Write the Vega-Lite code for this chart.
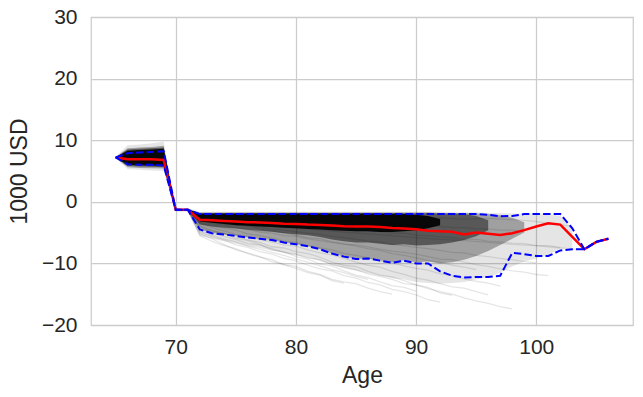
{
  "$schema": "https://vega.github.io/schema/vega-lite/v6.json",
  "width": 542,
  "height": 308,
  "autosize": {"type": "none"},
  "padding": {"left": 91, "top": 17, "right": 10, "bottom": 72},
  "background": "white",
  "config": {
    "view": {"stroke": "#cccccc", "strokeWidth": 1.25},
    "axis": {"grid": true, "gridColor": "#cccccc", "gridWidth": 1.25, "domain": false, "ticks": false,
      "labelFont": "Liberation Sans", "labelFontSize": 21, "labelColor": "#262626",
      "titleFont": "Liberation Sans", "titleFontSize": 23, "titleFontWeight": "normal", "titleColor": "#262626"}
  },
  "datasets": {
    "b1": [
      {"age":65,"v":7.3,"lo":7.1},{"age":66,"v":9.2,"lo":5.3},{"age":67,"v":9.3,"lo":5.2},{"age":68,"v":9.5,"lo":5.1},{"age":69,"v":9.8,"lo":5.0},
      {"age":70,"v":-1.0,"lo":-1.6},{"age":71,"v":-1.0,"lo":-1.6},{"age":72,"v":-1.6,"lo":-5.5},{"age":73,"v":-1.6,"lo":-6.0},{"age":74,"v":-1.6,"lo":-6.4},
      {"age":75,"v":-1.6,"lo":-6.8},{"age":76,"v":-1.6,"lo":-7.2},{"age":77,"v":-1.6,"lo":-7.5},{"age":78,"v":-1.6,"lo":-7.9},{"age":79,"v":-1.6,"lo":-8.3},
      {"age":80,"v":-1.6,"lo":-8.7},{"age":81,"v":-1.6,"lo":-9.1},{"age":82,"v":-1.6,"lo":-9.6},{"age":83,"v":-1.6,"lo":-10.2},{"age":84,"v":-1.6,"lo":-10.8},
      {"age":85,"v":-1.6,"lo":-11.2},{"age":86,"v":-1.6,"lo":-11.6},{"age":87,"v":-1.6,"lo":-12.0},{"age":88,"v":-1.6,"lo":-12.4},{"age":89,"v":-1.6,"lo":-12.6},
      {"age":90,"v":-1.6,"lo":-13.0},{"age":91,"v":-1.6,"lo":-13.2},{"age":92,"v":-1.6,"lo":-13.3},{"age":93,"v":-1.7,"lo":-13.2},{"age":94,"v":-1.7,"lo":-13.0},
      {"age":95,"v":-1.7,"lo":-12.6},{"age":96,"v":-1.8,"lo":-12.2},{"age":97,"v":-1.8,"lo":-11.5},{"age":98,"v":-1.9,"lo":-10.5},{"age":99,"v":-1.9,"lo":-9.7},
      {"age":100,"v":-1.9,"lo":-9.2},{"age":101,"v":-2.0,"lo":-8.6},{"age":102,"v":-2.3,"lo":-7.6},{"age":103,"v":-4.3,"lo":-7.6}
    ],
    "b2": [
      {"age":65,"v":7.25,"lo":7.15},{"age":66,"v":8.7,"lo":5.6},{"age":67,"v":8.8,"lo":5.5},{"age":68,"v":8.9,"lo":5.45},{"age":69,"v":9.1,"lo":5.4},
      {"age":70,"v":-1.15,"lo":-1.45},{"age":71,"v":-1.15,"lo":-1.45},{"age":72,"v":-1.75,"lo":-4.5},{"age":73,"v":-1.75,"lo":-5.0},{"age":74,"v":-1.75,"lo":-5.3},
      {"age":75,"v":-1.75,"lo":-5.5},{"age":76,"v":-1.75,"lo":-5.8},{"age":77,"v":-1.75,"lo":-6.0},{"age":78,"v":-1.75,"lo":-6.2},{"age":79,"v":-1.75,"lo":-6.6},
      {"age":80,"v":-1.75,"lo":-6.9},{"age":81,"v":-1.75,"lo":-7.2},{"age":82,"v":-1.75,"lo":-7.7},{"age":83,"v":-1.75,"lo":-8.4},{"age":84,"v":-1.75,"lo":-8.9},
      {"age":85,"v":-1.75,"lo":-9.3},{"age":86,"v":-1.75,"lo":-9.2},{"age":87,"v":-1.75,"lo":-9.5},{"age":88,"v":-1.75,"lo":-9.8},{"age":89,"v":-1.75,"lo":-9.5},
      {"age":90,"v":-1.75,"lo":-9.8},{"age":91,"v":-1.75,"lo":-9.7},{"age":92,"v":-1.8,"lo":-10.0},{"age":93,"v":-1.8,"lo":-9.8},{"age":94,"v":-1.8,"lo":-9.4},
      {"age":95,"v":-1.9,"lo":-8.8},{"age":96,"v":-2.0,"lo":-8.0},{"age":97,"v":-2.2,"lo":-7.0},{"age":98,"v":-2.6,"lo":-6.0},{"age":99,"v":-3.3,"lo":-5.0}
    ],
    "b3": [
      {"age":65,"v":7.25,"lo":7.15},{"age":66,"v":8.5,"lo":5.8},{"age":67,"v":8.6,"lo":5.75},{"age":68,"v":8.7,"lo":5.7},{"age":69,"v":8.8,"lo":5.6},
      {"age":70,"v":-1.2,"lo":-1.4},{"age":71,"v":-1.2,"lo":-1.4},{"age":72,"v":-1.85,"lo":-3.7},{"age":73,"v":-1.85,"lo":-4.0},{"age":74,"v":-1.85,"lo":-4.2},
      {"age":75,"v":-1.85,"lo":-4.35},{"age":76,"v":-1.85,"lo":-4.55},{"age":77,"v":-1.85,"lo":-4.7},{"age":78,"v":-1.85,"lo":-4.85},{"age":79,"v":-1.85,"lo":-5.1},
      {"age":80,"v":-1.85,"lo":-5.25},{"age":81,"v":-1.85,"lo":-5.45},{"age":82,"v":-1.85,"lo":-5.7},{"age":83,"v":-1.85,"lo":-6.1},{"age":84,"v":-1.85,"lo":-6.4},
      {"age":85,"v":-1.85,"lo":-6.6},{"age":86,"v":-1.85,"lo":-6.6},{"age":87,"v":-1.85,"lo":-6.8},{"age":88,"v":-1.85,"lo":-7.0},{"age":89,"v":-1.85,"lo":-6.9},
      {"age":90,"v":-1.85,"lo":-7.1},{"age":91,"v":-1.85,"lo":-7.0},{"age":92,"v":-1.9,"lo":-6.9},{"age":93,"v":-1.9,"lo":-6.6},{"age":94,"v":-2.0,"lo":-6.2},
      {"age":95,"v":-2.3,"lo":-5.6},{"age":96,"v":-3.0,"lo":-4.6}
    ],
    "b4": [
      {"age":65,"v":7.25,"lo":7.15},{"age":66,"v":8.3,"lo":6.0},{"age":67,"v":8.4,"lo":5.95},{"age":68,"v":8.5,"lo":5.9},{"age":69,"v":8.6,"lo":5.8},
      {"age":70,"v":-1.2,"lo":-1.4},{"age":71,"v":-1.2,"lo":-1.4},{"age":72,"v":-1.9,"lo":-3.2},{"age":73,"v":-1.9,"lo":-3.4},{"age":74,"v":-1.9,"lo":-3.6},
      {"age":75,"v":-1.9,"lo":-3.8},{"age":76,"v":-1.9,"lo":-3.9},{"age":77,"v":-1.9,"lo":-4.0},{"age":78,"v":-1.9,"lo":-4.1},{"age":79,"v":-1.9,"lo":-4.2},
      {"age":80,"v":-1.9,"lo":-4.3},{"age":81,"v":-1.9,"lo":-4.4},{"age":82,"v":-1.9,"lo":-4.5},{"age":83,"v":-1.9,"lo":-4.6},{"age":84,"v":-1.9,"lo":-4.7},
      {"age":85,"v":-1.9,"lo":-4.8},{"age":86,"v":-1.9,"lo":-4.8},{"age":87,"v":-1.9,"lo":-4.9},{"age":88,"v":-1.95,"lo":-4.9},{"age":89,"v":-2.0,"lo":-4.8},
      {"age":90,"v":-2.1,"lo":-4.6},{"age":91,"v":-2.3,"lo":-4.3},{"age":92,"v":-2.8,"lo":-3.8}
    ],
    "sims": [
      {"id":1,"age":71,"v":-1.3},{"id":1,"age":72,"v":-4.9},{"id":1,"age":73,"v":-5.7},{"id":1,"age":74,"v":-6.2},{"id":1,"age":75,"v":-7.0},{"id":1,"age":76,"v":-7.4},{"id":1,"age":77,"v":-8.1},{"id":1,"age":78,"v":-8.5},{"id":1,"age":79,"v":-9.2},{"id":1,"age":80,"v":-9.6},{"id":1,"age":81,"v":-10.3},{"id":1,"age":82,"v":-10.9},{"id":1,"age":83,"v":-11.2},{"id":1,"age":84,"v":-12.0},{"id":1,"age":85,"v":-12.4},{"id":1,"age":86,"v":-13.1},{"id":1,"age":87,"v":-13.5},{"id":1,"age":88,"v":-14.2},{"id":1,"age":89,"v":-14.6},{"id":1,"age":90,"v":-15.1},{"id":1,"age":91,"v":-15.9},{"id":1,"age":92,"v":-16.3},
      {"id":2,"age":71,"v":-1.3},{"id":2,"age":72,"v":-4.4},{"id":2,"age":73,"v":-5.0},{"id":2,"age":74,"v":-5.6},{"id":2,"age":75,"v":-6.1},{"id":2,"age":76,"v":-6.8},{"id":2,"age":77,"v":-7.0},{"id":2,"age":78,"v":-7.6},{"id":2,"age":79,"v":-8.2},{"id":2,"age":80,"v":-8.5},{"id":2,"age":81,"v":-9.1},{"id":2,"age":82,"v":-9.4},{"id":2,"age":83,"v":-10.2},{"id":2,"age":84,"v":-10.6},{"id":2,"age":85,"v":-11.0},{"id":2,"age":86,"v":-11.7},{"id":2,"age":87,"v":-12.1},{"id":2,"age":88,"v":-12.6},{"id":2,"age":89,"v":-13.3},{"id":2,"age":90,"v":-13.5},{"id":2,"age":91,"v":-14.1},{"id":2,"age":92,"v":-14.6},{"id":2,"age":93,"v":-15.0},{"id":2,"age":94,"v":-15.6},{"id":2,"age":95,"v":-16.1},{"id":2,"age":96,"v":-16.5},{"id":2,"age":97,"v":-17.0},{"id":2,"age":98,"v":-17.4},
      {"id":3,"age":71,"v":-1.3},{"id":3,"age":72,"v":-3.9},{"id":3,"age":73,"v":-4.6},{"id":3,"age":74,"v":-5.2},{"id":3,"age":75,"v":-5.5},{"id":3,"age":76,"v":-6.2},{"id":3,"age":77,"v":-6.6},{"id":3,"age":78,"v":-7.3},{"id":3,"age":79,"v":-7.5},{"id":3,"age":80,"v":-8.1},{"id":3,"age":81,"v":-8.4},{"id":3,"age":82,"v":-9.0},{"id":3,"age":83,"v":-9.8},{"id":3,"age":84,"v":-10.3},{"id":3,"age":85,"v":-10.5},{"id":3,"age":86,"v":-11.3},{"id":3,"age":87,"v":-11.9},{"id":3,"age":88,"v":-12.2},{"id":3,"age":89,"v":-12.8},{"id":3,"age":90,"v":-13.5},{"id":3,"age":91,"v":-13.9},{"id":3,"age":92,"v":-14.8},{"id":3,"age":93,"v":-15.2},
      {"id":4,"age":71,"v":-1.3},{"id":4,"age":72,"v":-5.2},{"id":4,"age":73,"v":-6.0},{"id":4,"age":74,"v":-6.9},{"id":4,"age":75,"v":-7.8},{"id":4,"age":76,"v":-8.3},{"id":4,"age":77,"v":-8.9},{"id":4,"age":78,"v":-9.7},{"id":4,"age":79,"v":-10.2},{"id":4,"age":80,"v":-10.5},{"id":4,"age":81,"v":-11.3},{"id":4,"age":82,"v":-11.8},{"id":4,"age":83,"v":-12.6},{"id":4,"age":84,"v":-13.0},{"id":4,"age":85,"v":-13.3},{"id":4,"age":86,"v":-14.0},{"id":4,"age":87,"v":-14.6},{"id":4,"age":88,"v":-15.0},
      {"id":5,"age":71,"v":-1.3},{"id":5,"age":72,"v":-3.5},{"id":5,"age":73,"v":-4.2},{"id":5,"age":74,"v":-4.7},{"id":5,"age":75,"v":-5.3},{"id":5,"age":76,"v":-5.6},{"id":5,"age":77,"v":-6.1},{"id":5,"age":78,"v":-6.5},{"id":5,"age":79,"v":-7.0},{"id":5,"age":80,"v":-7.2},{"id":5,"age":81,"v":-7.8},{"id":5,"age":82,"v":-8.3},{"id":5,"age":83,"v":-8.6},{"id":5,"age":84,"v":-9.2},{"id":5,"age":85,"v":-9.8},{"id":5,"age":86,"v":-10.3},{"id":5,"age":87,"v":-10.6},{"id":5,"age":88,"v":-11.3},{"id":5,"age":89,"v":-11.8},{"id":5,"age":90,"v":-12.4},{"id":5,"age":91,"v":-12.7},{"id":5,"age":92,"v":-13.3},{"id":5,"age":93,"v":-13.8},{"id":5,"age":94,"v":-14.0},{"id":5,"age":95,"v":-14.6},{"id":5,"age":96,"v":-15.1},
      {"id":6,"age":71,"v":-1.3},{"id":6,"age":72,"v":-3.0},{"id":6,"age":73,"v":-3.5},{"id":6,"age":74,"v":-3.8},{"id":6,"age":75,"v":-4.2},{"id":6,"age":76,"v":-4.5},{"id":6,"age":77,"v":-4.9},{"id":6,"age":78,"v":-5.1},{"id":6,"age":79,"v":-5.5},{"id":6,"age":80,"v":-5.6},{"id":6,"age":81,"v":-6.0},{"id":6,"age":82,"v":-6.3},{"id":6,"age":83,"v":-6.6},{"id":6,"age":84,"v":-6.9},{"id":6,"age":85,"v":-7.0},{"id":6,"age":86,"v":-7.3},{"id":6,"age":87,"v":-7.7},{"id":6,"age":88,"v":-8.0},{"id":6,"age":89,"v":-8.2},{"id":6,"age":90,"v":-8.5},{"id":6,"age":91,"v":-8.9},{"id":6,"age":92,"v":-9.3},{"id":6,"age":93,"v":-9.4},{"id":6,"age":94,"v":-9.8},{"id":6,"age":95,"v":-10.2},{"id":6,"age":96,"v":-10.5},{"id":6,"age":97,"v":-10.9},{"id":6,"age":98,"v":-11.2},{"id":6,"age":99,"v":-11.4},{"id":6,"age":100,"v":-11.8},{"id":6,"age":101,"v":-12.0},
      {"id":7,"age":71,"v":-1.3},{"id":7,"age":72,"v":-5.5},{"id":7,"age":73,"v":-6.4},{"id":7,"age":74,"v":-7.1},{"id":7,"age":75,"v":-7.6},{"id":7,"age":76,"v":-8.4},{"id":7,"age":77,"v":-9.0},{"id":7,"age":78,"v":-9.4},{"id":7,"age":79,"v":-10.2},{"id":7,"age":80,"v":-10.8},{"id":7,"age":81,"v":-11.5},{"id":7,"age":82,"v":-11.9},{"id":7,"age":83,"v":-12.8},{"id":7,"age":84,"v":-13.2},
      {"id":8,"age":71,"v":-1.3},{"id":8,"age":72,"v":-4.0},{"id":8,"age":73,"v":-4.8},{"id":8,"age":74,"v":-5.1},{"id":8,"age":75,"v":-5.9},{"id":8,"age":76,"v":-6.3},{"id":8,"age":77,"v":-6.9},{"id":8,"age":78,"v":-7.8},{"id":8,"age":79,"v":-8.1},{"id":8,"age":80,"v":-8.9},{"id":8,"age":81,"v":-9.3},{"id":8,"age":82,"v":-10.1},{"id":8,"age":83,"v":-10.4},{"id":8,"age":84,"v":-11.2},{"id":8,"age":85,"v":-11.9},{"id":8,"age":86,"v":-12.3},{"id":8,"age":87,"v":-13.0},{"id":8,"age":88,"v":-13.6},{"id":8,"age":89,"v":-13.9},{"id":8,"age":90,"v":-14.5},
      {"id":9,"age":71,"v":-1.3},{"id":9,"age":72,"v":-2.6},{"id":9,"age":73,"v":-3.0},{"id":9,"age":74,"v":-3.3},{"id":9,"age":75,"v":-3.5},{"id":9,"age":76,"v":-3.9},{"id":9,"age":77,"v":-4.1},{"id":9,"age":78,"v":-4.4},{"id":9,"age":79,"v":-4.6},{"id":9,"age":80,"v":-4.9},{"id":9,"age":81,"v":-5.1},{"id":9,"age":82,"v":-5.3},{"id":9,"age":83,"v":-5.6},{"id":9,"age":84,"v":-5.8},{"id":9,"age":85,"v":-6.1},{"id":9,"age":86,"v":-6.4},{"id":9,"age":87,"v":-6.5},{"id":9,"age":88,"v":-6.9},{"id":9,"age":89,"v":-7.1},{"id":9,"age":90,"v":-7.4},{"id":9,"age":91,"v":-7.6},{"id":9,"age":92,"v":-7.9},{"id":9,"age":93,"v":-8.2},{"id":9,"age":94,"v":-8.3},{"id":9,"age":95,"v":-8.7},{"id":9,"age":96,"v":-8.9},{"id":9,"age":97,"v":-9.2},{"id":9,"age":98,"v":-9.4},{"id":9,"age":99,"v":-9.7},{"id":9,"age":100,"v":-9.9},
      {"id":10,"age":71,"v":-1.3},{"id":10,"age":72,"v":-2.2},{"id":10,"age":73,"v":-2.4},{"id":10,"age":74,"v":-2.7},{"id":10,"age":75,"v":-2.8},{"id":10,"age":76,"v":-3.1},{"id":10,"age":77,"v":-3.1},{"id":10,"age":78,"v":-3.4},{"id":10,"age":79,"v":-3.5},{"id":10,"age":80,"v":-3.7},{"id":10,"age":81,"v":-3.8},{"id":10,"age":82,"v":-4.1},{"id":10,"age":83,"v":-4.1},{"id":10,"age":84,"v":-4.4},{"id":10,"age":85,"v":-4.5},{"id":10,"age":86,"v":-4.7},{"id":10,"age":87,"v":-4.8},{"id":10,"age":88,"v":-5.1},{"id":10,"age":89,"v":-5.1},{"id":10,"age":90,"v":-5.4},{"id":10,"age":91,"v":-5.5},{"id":10,"age":92,"v":-5.7},{"id":10,"age":93,"v":-5.8},{"id":10,"age":94,"v":-6.1},{"id":10,"age":95,"v":-6.1},{"id":10,"age":96,"v":-6.4},{"id":10,"age":97,"v":-6.5},{"id":10,"age":98,"v":-6.7},{"id":10,"age":99,"v":-6.8},{"id":10,"age":100,"v":-7.1},{"id":10,"age":101,"v":-7.1},{"id":10,"age":102,"v":-7.4},
      {"id":11,"age":71,"v":-1.3},{"id":11,"age":72,"v":-2.0},{"id":11,"age":73,"v":-2.2},{"id":11,"age":74,"v":-2.2},{"id":11,"age":75,"v":-2.4},{"id":11,"age":76,"v":-2.4},{"id":11,"age":77,"v":-2.6},{"id":11,"age":78,"v":-2.6},{"id":11,"age":79,"v":-2.8},{"id":11,"age":80,"v":-2.8},{"id":11,"age":81,"v":-3.0},{"id":11,"age":82,"v":-3.0},{"id":11,"age":83,"v":-3.2},{"id":11,"age":84,"v":-3.2},{"id":11,"age":85,"v":-3.4},{"id":11,"age":86,"v":-3.4},{"id":11,"age":87,"v":-3.6},{"id":11,"age":88,"v":-3.6},{"id":11,"age":89,"v":-3.8},{"id":11,"age":90,"v":-3.8},{"id":11,"age":91,"v":-4.0},{"id":11,"age":92,"v":-4.0},{"id":11,"age":93,"v":-4.2},{"id":11,"age":94,"v":-4.2},{"id":11,"age":95,"v":-4.4},{"id":11,"age":96,"v":-4.4},{"id":11,"age":97,"v":-4.6},{"id":11,"age":98,"v":-4.6},{"id":11,"age":99,"v":-4.8},
      {"id":12,"age":71,"v":-1.3},{"id":12,"age":72,"v":-3.3},{"id":12,"age":73,"v":-3.9},{"id":12,"age":74,"v":-4.3},{"id":12,"age":75,"v":-4.6},{"id":12,"age":76,"v":-5.2},{"id":12,"age":77,"v":-5.5},{"id":12,"age":78,"v":-5.9},{"id":12,"age":79,"v":-6.4},{"id":12,"age":80,"v":-6.6},{"id":12,"age":81,"v":-7.1},{"id":12,"age":82,"v":-7.5},{"id":12,"age":83,"v":-7.8},{"id":12,"age":84,"v":-8.4},{"id":12,"age":85,"v":-8.7},{"id":12,"age":86,"v":-9.1},{"id":12,"age":87,"v":-9.6},{"id":12,"age":88,"v":-9.9},{"id":12,"age":89,"v":-10.4},{"id":12,"age":90,"v":-10.8},{"id":12,"age":91,"v":-11.1},{"id":12,"age":92,"v":-11.7},{"id":12,"age":93,"v":-12.0},{"id":12,"age":94,"v":-12.5},{"id":12,"age":95,"v":-12.9},{"id":12,"age":96,"v":-13.2},{"id":12,"age":97,"v":-13.7},
      {"id":13,"age":71,"v":-1.3},{"id":13,"age":72,"v":-2.4},{"id":13,"age":73,"v":-2.9},{"id":13,"age":74,"v":-3.2},{"id":13,"age":75,"v":-3.7},{"id":13,"age":76,"v":-3.9},{"id":13,"age":77,"v":-4.4},{"id":13,"age":78,"v":-4.7},{"id":13,"age":79,"v":-5.0},{"id":13,"age":80,"v":-5.4},{"id":13,"age":81,"v":-5.8},{"id":13,"age":82,"v":-6.0},{"id":13,"age":83,"v":-6.5},{"id":13,"age":84,"v":-6.8},{"id":13,"age":85,"v":-7.2},{"id":13,"age":86,"v":-7.6},{"id":13,"age":87,"v":-7.9},{"id":13,"age":88,"v":-8.4},{"id":13,"age":89,"v":-8.7},{"id":13,"age":90,"v":-9.1},{"id":13,"age":91,"v":-9.5},{"id":13,"age":92,"v":-9.8},{"id":13,"age":93,"v":-10.3},{"id":13,"age":94,"v":-10.6},{"id":13,"age":95,"v":-11.0},
      {"id":14,"age":71,"v":-1.3},{"id":14,"age":72,"v":-4.7},{"id":14,"age":73,"v":-5.4},{"id":14,"age":74,"v":-6.0},{"id":14,"age":75,"v":-6.5},{"id":14,"age":76,"v":-7.2},{"id":14,"age":77,"v":-7.7},{"id":14,"age":78,"v":-8.2},{"id":14,"age":79,"v":-8.7},{"id":14,"age":80,"v":-9.3},{"id":14,"age":81,"v":-9.8},{"id":14,"age":82,"v":-10.4},{"id":14,"age":83,"v":-11.0},{"id":14,"age":84,"v":-11.5},{"id":14,"age":85,"v":-12.1},{"id":14,"age":86,"v":-12.6},
      {"id":15,"age":71,"v":-1.3},{"id":15,"age":72,"v":-2.1},{"id":15,"age":74,"v":-2.3},{"id":15,"age":76,"v":-2.2},{"id":15,"age":78,"v":-2.4},{"id":15,"age":80,"v":-2.3},{"id":15,"age":82,"v":-2.5},{"id":15,"age":84,"v":-2.4},{"id":15,"age":86,"v":-2.6},{"id":15,"age":88,"v":-2.5},{"id":15,"age":90,"v":-2.7},{"id":15,"age":92,"v":-2.6},{"id":15,"age":94,"v":-2.8},{"id":15,"age":96,"v":-2.7},{"id":15,"age":98,"v":-2.9},{"id":15,"age":99,"v":-3.0},{"id":15,"age":100,"v":-3.2},{"id":15,"age":101,"v":-3.5},{"id":15,"age":102,"v":-3.7},{"id":15,"age":103,"v":-4.0},
      {"id":16,"age":71,"v":-1.3},{"id":16,"age":72,"v":-2.9},{"id":16,"age":74,"v":-3.3},{"id":16,"age":76,"v":-3.6},{"id":16,"age":78,"v":-4.0},{"id":16,"age":80,"v":-4.3},{"id":16,"age":82,"v":-4.6},{"id":16,"age":84,"v":-4.9},{"id":16,"age":86,"v":-5.2},{"id":16,"age":88,"v":-5.5},{"id":16,"age":90,"v":-5.8},{"id":16,"age":92,"v":-6.1},{"id":16,"age":94,"v":-6.3},{"id":16,"age":96,"v":-6.6},{"id":16,"age":98,"v":-6.9},{"id":16,"age":100,"v":-7.1},{"id":16,"age":101,"v":-7.3},{"id":16,"age":102,"v":-7.5},{"id":16,"age":103,"v":-7.7},{"id":16,"age":104,"v":-7.7},{"id":16,"age":105,"v":-6.5},{"id":16,"age":106,"v":-6.0}
    ],
    "med": [
      {"age":65,"v":7.2},{"age":66,"v":6.9},{"age":67,"v":6.9},{"age":68,"v":6.9},{"age":69,"v":6.8},{"age":70,"v":-1.3},{"age":71,"v":-1.3},
      {"age":72,"v":-2.9},{"age":73,"v":-3.0},{"age":74,"v":-3.1},{"age":75,"v":-3.2},{"age":76,"v":-3.3},{"age":77,"v":-3.35},{"age":78,"v":-3.45},{"age":79,"v":-3.55},
      {"age":80,"v":-3.6},{"age":81,"v":-3.7},{"age":82,"v":-3.75},{"age":83,"v":-3.85},{"age":84,"v":-3.95},{"age":85,"v":-4.0},{"age":86,"v":-4.0},{"age":87,"v":-4.1},
      {"age":88,"v":-4.25},{"age":89,"v":-4.35},{"age":90,"v":-4.45},{"age":91,"v":-4.7},{"age":92,"v":-4.8},{"age":93,"v":-4.85},{"age":94,"v":-5.3},{"age":95,"v":-5.0},
      {"age":96,"v":-5.2},{"age":97,"v":-5.4},{"age":98,"v":-5.1},{"age":99,"v":-4.6},{"age":100,"v":-4.0},{"age":101,"v":-3.5},{"age":102,"v":-3.7},{"age":103,"v":-5.7},
      {"age":104,"v":-7.7},{"age":105,"v":-6.5},{"age":106,"v":-6.0}
    ],
    "upper": [
      {"age":65,"v":7.2},{"age":66,"v":7.9},{"age":67,"v":8.0},{"age":68,"v":8.1},{"age":69,"v":8.2},{"age":70,"v":-1.3},{"age":71,"v":-1.3},
      {"age":72,"v":-2.0},{"age":73,"v":-2.0},{"age":74,"v":-2.0},{"age":75,"v":-2.0},{"age":76,"v":-2.0},{"age":77,"v":-2.0},{"age":78,"v":-2.0},{"age":79,"v":-2.0},
      {"age":80,"v":-2.0},{"age":81,"v":-2.0},{"age":82,"v":-2.0},{"age":83,"v":-2.0},{"age":84,"v":-2.0},{"age":85,"v":-2.0},{"age":86,"v":-2.0},{"age":87,"v":-2.0},
      {"age":88,"v":-2.0},{"age":89,"v":-2.0},{"age":90,"v":-2.0},{"age":91,"v":-2.0},{"age":92,"v":-2.0},{"age":93,"v":-2.0},{"age":94,"v":-2.0},{"age":95,"v":-2.0},
      {"age":96,"v":-2.1},{"age":97,"v":-2.35},{"age":98,"v":-2.3},{"age":99,"v":-2.0},{"age":100,"v":-2.0},{"age":101,"v":-2.0},{"age":102,"v":-2.0},{"age":103,"v":-4.3},
      {"age":104,"v":-7.7},{"age":105,"v":-6.5},{"age":106,"v":-6.0}
    ],
    "lower": [
      {"age":65,"v":7.2},{"age":66,"v":6.1},{"age":67,"v":6.0},{"age":68,"v":6.0},{"age":69,"v":5.9},{"age":70,"v":-1.3},{"age":71,"v":-1.3},
      {"age":72,"v":-4.5},{"age":73,"v":-5.1},{"age":74,"v":-5.3},{"age":75,"v":-5.55},{"age":76,"v":-5.8},{"age":77,"v":-6.0},{"age":78,"v":-6.2},{"age":79,"v":-6.6},
      {"age":80,"v":-6.9},{"age":81,"v":-7.2},{"age":82,"v":-7.7},{"age":83,"v":-8.4},{"age":84,"v":-8.9},{"age":85,"v":-9.3},{"age":86,"v":-9.2},{"age":87,"v":-9.55},
      {"age":88,"v":-9.9},{"age":89,"v":-9.55},{"age":90,"v":-10.0},{"age":91,"v":-10.0},{"age":92,"v":-11.3},{"age":93,"v":-12.0},{"age":94,"v":-12.3},{"age":95,"v":-12.2},
      {"age":96,"v":-12.2},{"age":97,"v":-12.0},{"age":98,"v":-8.3},{"age":99,"v":-8.5},{"age":100,"v":-8.8},{"age":101,"v":-8.8},{"age":102,"v":-7.9},{"age":103,"v":-7.7},
      {"age":104,"v":-7.7},{"age":105,"v":-6.5},{"age":106,"v":-6.0}
    ]
  },
  "encoding": {
    "x": {"field": "age", "type": "quantitative",
      "scale": {"domain": [62.95, 108.05], "nice": false, "zero": false},
      "axis": {"values": [70, 80, 90, 100], "title": "Age", "labelPadding": 11, "titlePadding": 7}},
    "y": {"field": "v", "type": "quantitative",
      "scale": {"domain": [-20, 30], "nice": false, "zero": false},
      "axis": {"values": [-20, -10, 0, 10, 20, 30], "title": "1000 USD", "labelPadding": 14, "titlePadding": 10}}
  },
  "layer": [
    {"data": {"name": "b1"}, "mark": {"type": "area", "color": "black", "opacity": 0.1}, "encoding": {"y2": {"field": "lo"}}},
    {"data": {"name": "b2"}, "mark": {"type": "area", "color": "black", "opacity": 0.3}, "encoding": {"y2": {"field": "lo"}}},
    {"data": {"name": "b3"}, "mark": {"type": "area", "color": "black", "opacity": 0.45}, "encoding": {"y2": {"field": "lo"}}},
    {"data": {"name": "b4"}, "mark": {"type": "area", "color": "black", "opacity": 0.9}, "encoding": {"y2": {"field": "lo"}}},
    {"data": {"name": "sims"}, "mark": {"type": "line", "color": "black", "opacity": 0.1, "strokeWidth": 1.3}, "encoding": {"detail": {"field": "id"}}},
    {"data": {"name": "med"}, "mark": {"type": "line", "color": "#ff0000", "strokeWidth": 2.5}, "encoding": {}},
    {"data": {"name": "upper"}, "mark": {"type": "line", "color": "#0000ff", "strokeWidth": 2, "strokeDash": [7.4, 3.2]}, "encoding": {}},
    {"data": {"name": "lower"}, "mark": {"type": "line", "color": "#0000ff", "strokeWidth": 2, "strokeDash": [7.4, 3.2]}, "encoding": {}}
  ]
}
